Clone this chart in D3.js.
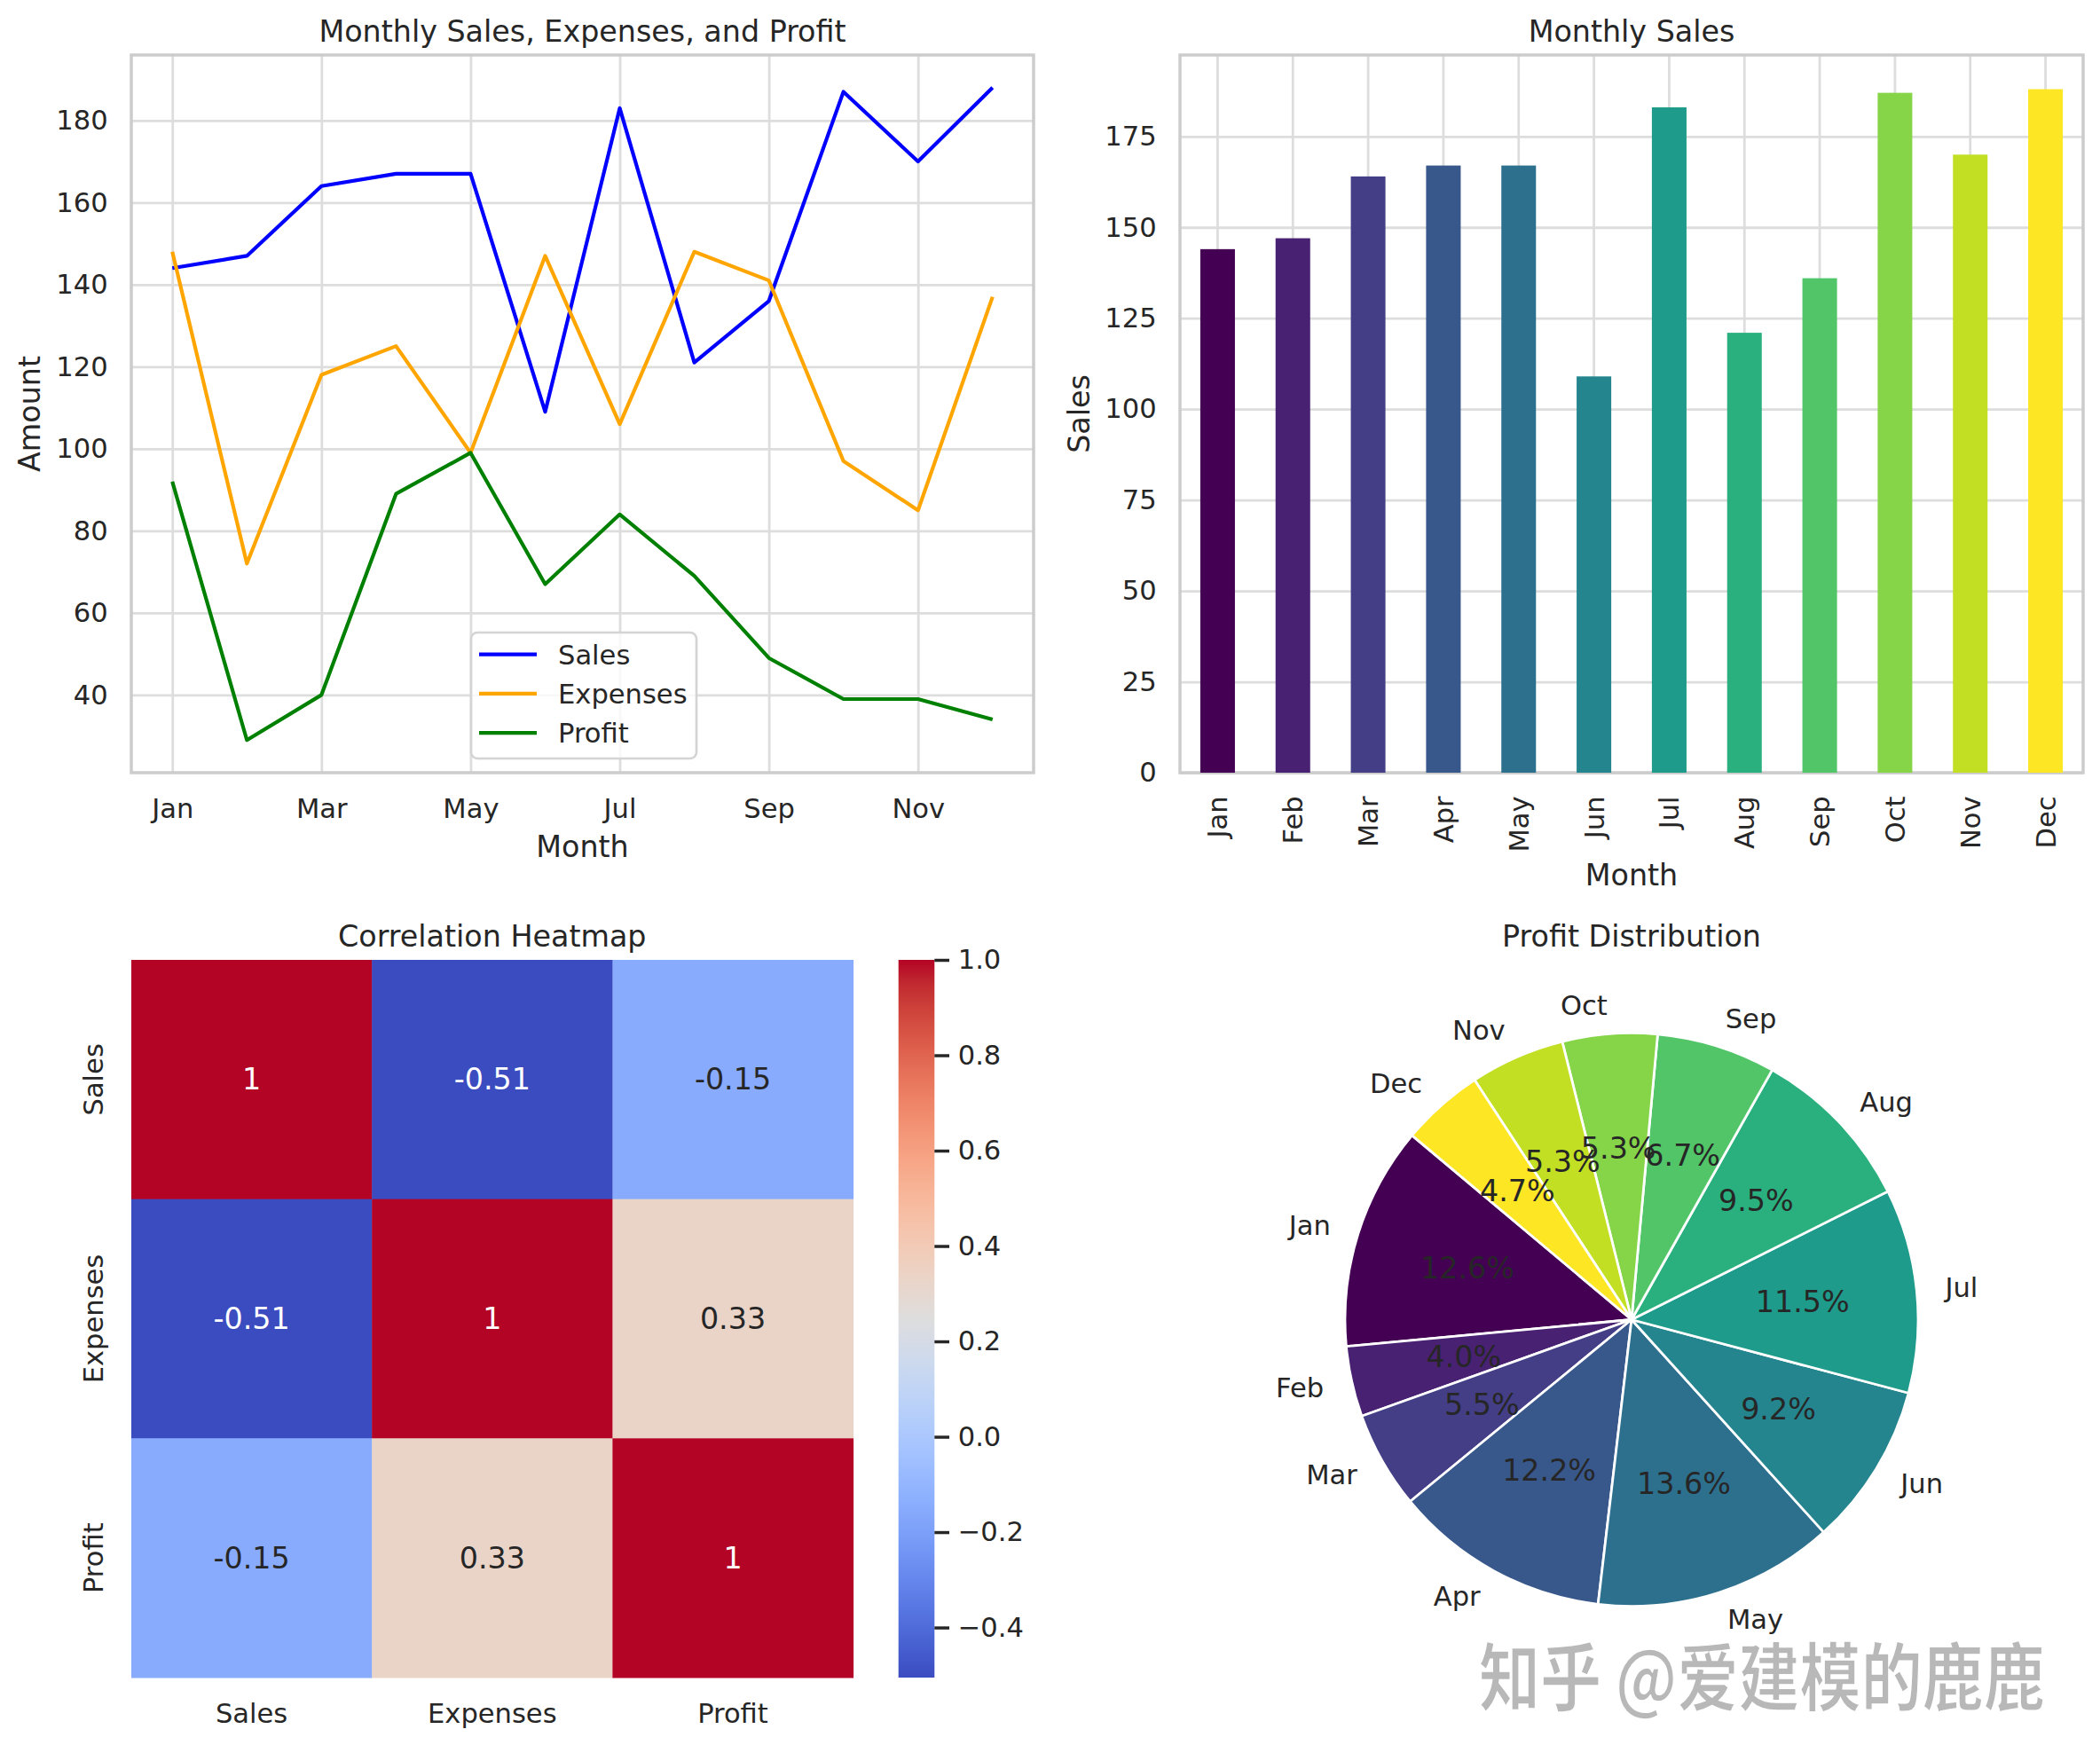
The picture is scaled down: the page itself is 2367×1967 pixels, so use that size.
<!DOCTYPE html>
<html><head><meta charset="utf-8">
<script src="https://cdn.jsdelivr.net/npm/d3@7"></script>
<style>
body{margin:0;background:#fff}
svg text{font-family:"DejaVu Sans",sans-serif;fill:#262626}
</style>
</head><body>
<svg id="chart" width="2367" height="1967"></svg>
<script>
// ---------- data ----------
const months = ["Jan","Feb","Mar","Apr","May","Jun","Jul","Aug","Sep","Oct","Nov","Dec"];
const sales = [144,147,164,167,167,109,183,121,136,187,170,188];
const expenses = [148,72,118,125,99,147,106,148,141,97,85,137];
const profit = [92,29,40,89,99,67,84,69,49,39,39,34];
const seriesNames = ["Sales","Expenses","Profit"];
const seriesColors = ["#0000ff","#ffa500","#008000"];
const lineYTicks = [40,60,80,100,120,140,160,180];
const lineXTicks = [0,2,4,6,8,10];
const barYTicks = [0,25,50,75,100,125,150,175];
const corrLabels = ["Sales","Expenses","Profit"];
const corrValues = [[1,-0.51,-0.15],[-0.51,1,0.33],[-0.15,0.33,1]];
const corrMin = -0.505, corrMax = 1.0;
const cbarTicks = [-0.4,-0.2,0.0,0.2,0.4,0.6,0.8,1.0];
// matplotlib coolwarm colormap
const coolwarm = [[59,76,192],[68,90,204],[77,104,215],[87,117,225],[98,130,234],[108,142,241],[119,154,247],[130,165,251],[141,176,254],[152,185,255],[163,194,255],[174,201,253],[184,208,249],[194,213,244],[204,217,238],[213,219,230],[221,221,221],[229,216,209],[236,211,197],[241,204,185],[245,196,173],[247,187,160],[247,177,148],[247,166,135],[244,154,123],[241,141,111],[236,127,99],[229,112,88],[222,96,77],[213,80,66],[203,62,56],[192,40,47],[180,4,38]];

// ---------- setup ----------
const svg = d3.select("#chart");
const TICK = 30.56, LAB = 33.33, PAD = 26.4, BPAD = 29;
const GRID = "#dddddd", FRAME = "#cccccc";

function styleAxis(g, size){
  g.attr("font-family",null).attr("font-size",null);
  g.selectAll("text").style("font-size", size+"px");
  g.select(".domain").remove();
}

// ---------- Chart 1: line chart ----------
(function(){
  const b = {x0:148, x1:1165, y0:62, y1:871};
  const x = d3.scaleLinear().domain([-0.55, 11.55]).range([b.x0,b.x1]);
  const y = d3.scaleLinear().domain([21.05, 195.95]).range([b.y1,b.y0]);
  const g = svg.append("g");
  g.append("g").attr("transform",`translate(0,${b.y1})`)
    .call(d3.axisBottom(x).tickValues(lineXTicks).tickSize(-(b.y1-b.y0)).tickFormat(""))
    .call(a=>{a.select(".domain").remove(); a.selectAll("line").attr("stroke",GRID).attr("stroke-width",2.78);});
  g.append("g").attr("transform",`translate(${b.x0},0)`)
    .call(d3.axisLeft(y).tickValues(lineYTicks).tickSize(-(b.x1-b.x0)).tickFormat(""))
    .call(a=>{a.select(".domain").remove(); a.selectAll("line").attr("stroke",GRID).attr("stroke-width",2.78);});
  g.append("rect").attr("x",b.x0).attr("y",b.y0).attr("width",b.x1-b.x0).attr("height",b.y1-b.y0)
    .attr("fill","none").attr("stroke",FRAME).attr("stroke-width",3.47);
  const data = [sales, expenses, profit];
  const line = d3.line().x((d,i)=>x(i)).y(d=>y(d));
  g.selectAll("path.series").data(data).join("path").attr("class","series")
    .attr("d",line).attr("fill","none").attr("stroke",(d,i)=>seriesColors[i])
    .attr("stroke-width",4.17).attr("stroke-linejoin","round").attr("stroke-linecap","butt");
  g.append("g").attr("transform",`translate(0,${b.y1})`)
    .call(d3.axisBottom(x).tickValues(lineXTicks).tickSize(0).tickPadding(BPAD).tickFormat(i=>months[i]))
    .call(a=>styleAxis(a,TICK));
  g.append("g").attr("transform",`translate(${b.x0},0)`)
    .call(d3.axisLeft(y).tickValues(lineYTicks).tickSize(0).tickPadding(PAD))
    .call(a=>styleAxis(a,TICK));
  g.append("text").attr("x",(b.x0+b.x1)/2).attr("y",b.y0-15).attr("text-anchor","middle")
    .style("font-size",LAB+"px").text("Monthly Sales, Expenses, and Profit");
  g.append("text").attr("x",(b.x0+b.x1)/2).attr("y",966).attr("text-anchor","middle")
    .style("font-size",LAB+"px").text("Month");
  g.append("text").attr("transform",`translate(33,${(b.y0+b.y1)/2}) rotate(-90)`)
    .attr("text-anchor","middle").attr("dominant-baseline","central")
    .style("font-size",LAB+"px").text("Amount");
  const lg = g.append("g");
  lg.append("rect").attr("x",531).attr("y",713).attr("width",254).attr("height",142).attr("rx",7)
    .attr("fill","#fff").attr("fill-opacity",0.8).attr("stroke","#d4d4d4").attr("stroke-width",2.6);
  const rows = lg.selectAll("g.row").data(seriesNames).join("g").attr("class","row")
    .attr("transform",(d,i)=>`translate(0,${737.7+i*44.2})`);
  rows.append("line").attr("x1",540).attr("x2",605).attr("y1",0).attr("y2",0)
    .attr("stroke",(d,i)=>seriesColors[i]).attr("stroke-width",4.17);
  rows.append("text").attr("x",629).attr("y",0).attr("dy","0.36em").style("font-size",TICK+"px").text(d=>d);
})();

// ---------- Chart 2: bar chart ----------
(function(){
  const b = {x0:1330, x1:2348, y0:62, y1:871};
  const x = d3.scaleBand().domain(months).range([b.x0,b.x1]).paddingInner(0.54).paddingOuter(0.27);
  const y = d3.scaleLinear().domain([0, 197.4]).range([b.y1,b.y0]);
  const g = svg.append("g");
  g.append("g").attr("transform",`translate(0,${b.y1})`)
    .call(d3.axisBottom(x).tickSize(-(b.y1-b.y0)).tickFormat(""))
    .call(a=>{a.select(".domain").remove(); a.selectAll("line").attr("stroke",GRID).attr("stroke-width",2.78);});
  g.append("g").attr("transform",`translate(${b.x0},0)`)
    .call(d3.axisLeft(y).tickValues(barYTicks).tickSize(-(b.x1-b.x0)).tickFormat(""))
    .call(a=>{a.select(".domain").remove(); a.selectAll("line").attr("stroke",GRID).attr("stroke-width",2.78);});
  g.append("rect").attr("x",b.x0).attr("y",b.y0).attr("width",b.x1-b.x0).attr("height",b.y1-b.y0)
    .attr("fill","none").attr("stroke",FRAME).attr("stroke-width",3.47);
  g.selectAll("rect.bar").data(sales).join("rect").attr("class","bar")
    .attr("x",(d,i)=>x(months[i])).attr("width",x.bandwidth())
    .attr("y",d=>y(d)).attr("height",d=>y(0)-y(d))
    .attr("fill",(d,i)=>d3.interpolateViridis(i/(months.length-1)));
  g.append("g").attr("transform",`translate(0,${b.y1})`)
    .call(d3.axisBottom(x).tickSize(0).tickPadding(PAD))
    .call(a=>{styleAxis(a,TICK);
      a.selectAll("text").attr("transform","rotate(-90)").attr("x",-PAD).attr("y",0)
        .attr("dy","0.36em").style("text-anchor","end");});
  g.append("g").attr("transform",`translate(${b.x0},0)`)
    .call(d3.axisLeft(y).tickValues(barYTicks).tickSize(0).tickPadding(PAD))
    .call(a=>styleAxis(a,TICK));
  g.append("text").attr("x",(b.x0+b.x1)/2).attr("y",b.y0-15).attr("text-anchor","middle")
    .style("font-size",LAB+"px").text("Monthly Sales");
  g.append("text").attr("x",(b.x0+b.x1)/2).attr("y",998).attr("text-anchor","middle")
    .style("font-size",LAB+"px").text("Month");
  g.append("text").attr("transform",`translate(1216,${(b.y0+b.y1)/2}) rotate(-90)`)
    .attr("text-anchor","middle").attr("dominant-baseline","central")
    .style("font-size",LAB+"px").text("Sales");
})();

// ---------- Chart 3: heatmap ----------
(function(){
  const b = {x0:148, x1:961.6, y0:1082, y1:1891};
  const x = d3.scaleBand().domain(corrLabels).range([b.x0,b.x1]);
  const y = d3.scaleBand().domain(corrLabels).range([b.y0,b.y1]);
  const cmapT = d3.scaleLinear().domain(coolwarm.map((c,i)=>i/(coolwarm.length-1)))
    .range(coolwarm.map(c=>`rgb(${c[0]},${c[1]},${c[2]})`)).interpolate(d3.interpolateRgb).clamp(true);
  const norm = d3.scaleLinear().domain([corrMin,corrMax]).range([0,1]).clamp(true);
  const color = v => cmapT(norm(v));
  const g = svg.append("g");
  const cells = [];
  corrValues.forEach((row,i)=>row.forEach((v,j)=>cells.push({r:corrLabels[i],c:corrLabels[j],v})));
  g.selectAll("rect.cell").data(cells).join("rect").attr("class","cell")
    .attr("x",d=>x(d.c)).attr("y",d=>y(d.r)).attr("width",x.bandwidth()+0.5).attr("height",y.bandwidth()+0.5)
    .attr("fill",d=>color(d.v));
  function lum(c){
    const rgb = d3.rgb(c);
    const f = u=>{u/=255; return u<=0.03928?u/12.92:Math.pow((u+0.055)/1.055,2.4);};
    return 0.2126*f(rgb.r)+0.7152*f(rgb.g)+0.0722*f(rgb.b);
  }
  g.selectAll("text.ann").data(cells).join("text").attr("class","ann")
    .attr("x",d=>x(d.c)+x.bandwidth()/2).attr("y",d=>y(d.r)+y.bandwidth()/2)
    .attr("text-anchor","middle").attr("dominant-baseline","central")
    .style("font-size",LAB+"px")
    .style("fill",d=>lum(color(d.v))>0.408?"#262626":"#ffffff")
    .text(d=>String(Number(d.v.toPrecision(2))));
  g.append("g").attr("transform",`translate(0,${b.y1})`)
    .call(d3.axisBottom(x).tickSize(0).tickPadding(BPAD))
    .call(a=>styleAxis(a,TICK));
  g.append("g").attr("transform",`translate(${b.x0},0)`)
    .call(d3.axisLeft(y).tickSize(0))
    .call(a=>{styleAxis(a,TICK);
      a.selectAll("text").attr("transform","rotate(-90)").attr("x",0).attr("y",-43)
        .attr("dy",null).attr("dominant-baseline","central").style("text-anchor","middle");});
  g.append("text").attr("x",(b.x0+b.x1)/2).attr("y",b.y0-15).attr("text-anchor","middle")
    .style("font-size",LAB+"px").text("Correlation Heatmap");
  const cb = {x0:1012.7, x1:1053.3};
  const cy = d3.scaleLinear().domain([corrMin,corrMax]).range([b.y1,b.y0]);
  const defs = svg.append("defs");
  const grad = defs.append("linearGradient").attr("id","cw").attr("x1",0).attr("y1",1).attr("x2",0).attr("y2",0);
  grad.selectAll("stop").data(coolwarm).join("stop")
    .attr("offset",(c,i)=>i/(coolwarm.length-1)).attr("stop-color",c=>`rgb(${c[0]},${c[1]},${c[2]})`);
  g.append("rect").attr("x",cb.x0).attr("y",b.y0).attr("width",cb.x1-cb.x0).attr("height",b.y1-b.y0)
    .attr("fill","url(#cw)");
  g.append("g").attr("transform",`translate(${cb.x1},0)`)
    .call(d3.axisRight(cy).tickValues(cbarTicks).tickSize(16.7).tickPadding(9.7).tickFormat(d3.format(".1f")))
    .call(a=>{styleAxis(a,TICK); a.selectAll("line").attr("stroke","#262626").attr("stroke-width",3.47);});
})();

// ---------- Chart 4: pie ----------
(function(){
  const cx = 1839, cyy = 1487.5, r = 323;
  const total = d3.sum(profit);
  const start = -50*Math.PI/180;
  const pie = d3.pie().sort(null).value(d=>d).startAngle(start).endAngle(start-2*Math.PI);
  const arcs = pie(profit);
  const arc = d3.arc().innerRadius(0).outerRadius(r);
  const g = svg.append("g").attr("transform",`translate(${cx},${cyy})`);
  g.selectAll("path.w").data(arcs).join("path").attr("class","w").attr("d",arc)
    .attr("fill",(d,i)=>d3.interpolateViridis(i/(months.length-1)))
    .attr("stroke","#ffffff").attr("stroke-width",2.78).attr("stroke-linejoin","round");
  const mid = d => (d.startAngle+d.endAngle)/2;
  g.selectAll("text.lab").data(arcs).join("text").attr("class","lab")
    .attr("x",d=>1.1*r*Math.sin(mid(d))).attr("y",d=>-1.1*r*Math.cos(mid(d)))
    .attr("text-anchor",d=>Math.sin(mid(d))>0?"start":"end").attr("dominant-baseline","central")
    .style("font-size",TICK+"px").text((d,i)=>months[i]);
  g.selectAll("text.pct").data(arcs).join("text").attr("class","pct")
    .attr("x",d=>0.6*r*Math.sin(mid(d))).attr("y",d=>-0.6*r*Math.cos(mid(d)))
    .attr("text-anchor","middle").attr("dominant-baseline","central")
    .style("font-size",LAB+"px").text(d=>(d.value/total*100).toFixed(1)+"%");
  svg.append("text").attr("x",cx).attr("y",1067).attr("text-anchor","middle")
    .style("font-size",LAB+"px").text("Profit Distribution");
})();

// ---------- watermark ----------
svg.append("text").attr("x",1667).attr("y",1922)
  .attr("textLength",638).attr("lengthAdjust","spacingAndGlyphs")
  .style("font-family","'Noto Sans CJK SC'").style("font-weight","bold")
  .style("font-size","84px").style("fill","#b8b8b8")
  .style("stroke","#ffffff").style("stroke-width",1.5)
  .text("知乎 @爱建模的鹿鹿");
</script>
</body></html>
